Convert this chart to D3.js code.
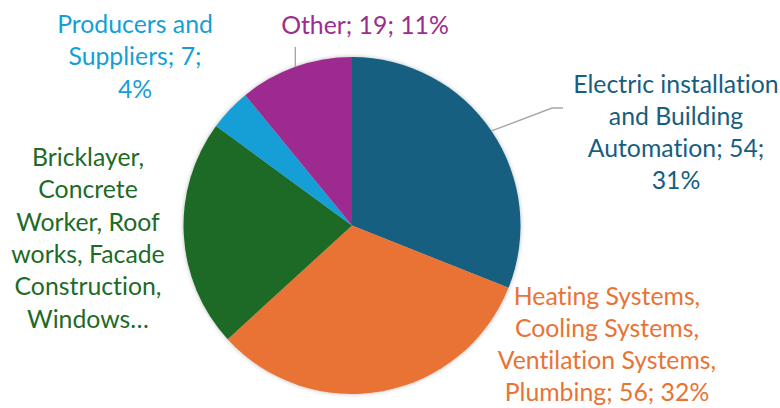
<!DOCTYPE html>
<html>
<head>
<meta charset="utf-8">
<script src="https://cdn.jsdelivr.net/npm/d3@7"></script>
<style>
  html, body { margin: 0; padding: 0; background: #fff; }
  svg { display: block; }
  text { font-family: Lato, "Open Sans", sans-serif; font-variant-ligatures: none; font-feature-settings: "liga" 0, "clig" 0; }
</style>
</head>
<body>
<svg id="chart" width="780" height="408"></svg>
<script>
// Trade groups and their counts (clockwise from 12 o'clock)
const categories = [
  "Electric installation and Building Automation",
  "Heating Systems, Cooling Systems, Ventilation Systems, Plumbing",
  "Bricklayer, Concrete Worker, Roof works, Facade Construction, Windows…",
  "Producers and Suppliers",
  "Other"
];
const counts = [54, 56, 38, 7, 19];
const colors = ["#175e80", "#e97334", "#1d6b25", "#139fd6", "#9d2c8f"];

// How each data label is broken into lines (the long group label is clipped)
const labelLines = [
  ["Electric installation", "and Building", "Automation; {v};", "{p}"],
  ["Heating Systems,", "Cooling Systems,", "Ventilation Systems,", "Plumbing; {v}; {p}"],
  ["Bricklayer,", "Concrete", "Worker, Roof", "works, Facade", "Construction,", "Windows…"],
  ["Producers and", "Suppliers; {v};", "{p}"],
  ["Other; {v}; {p}"]
];

const W = 780, H = 408;
const cx = 352, cy = 225.5, R = 168.5;
const fontSize = 24.8, lineGap = 32.3;

// Label anchor (centre x, first baseline y) relative to the pie centre
const labelPos = [
  { dx: 324, dy: -133 },
  { dx: 255, dy: 79 },
  { dx: -264, dy: -59.5 },
  { dx: -217, dy: -192.5 },
  { dx: 13, dy: -192 }
];

const svg = d3.select("#chart");
const defs = svg.append("defs");
const shadow = defs.append("filter").attr("id", "pieShadow")
  .attr("x", "-20%").attr("y", "-20%").attr("width", "140%").attr("height", "140%");
shadow.append("feDropShadow")
  .attr("dx", 0).attr("dy", 0).attr("stdDeviation", 2.2)
  .attr("flood-color", "#000").attr("flood-opacity", 0.28);

const total = d3.sum(counts);
const pie = d3.pie().sort(null).value(d => d)(counts);
const arc = d3.arc().innerRadius(0).outerRadius(R);

const g = svg.append("g").attr("transform", `translate(${cx},${cy})`);

g.append("g").attr("filter", "url(#pieShadow)")
  .selectAll("path").data(pie).join("path")
  .attr("d", arc)
  .attr("fill", (d, i) => colors[i]);

// Point on the rim at a slice's mid-angle
function rimPoint(d) {
  const a = (d.startAngle + d.endAngle) / 2;
  return [Math.sin(a) * R, -Math.cos(a) * R];
}

// Leader lines for the two labels that sit away from their slices
const leader = d3.line();
const p0 = rimPoint(pie[0]);
g.append("path")
  .attr("d", leader([p0, [200, -117.5], [211, -117.5]]))
  .attr("fill", "none").attr("stroke", "#a6a6a6").attr("stroke-width", 1.4);
const p4 = rimPoint(pie[4]);
g.append("path")
  .attr("d", leader([p4, [p4[0], -178.5]]))
  .attr("fill", "none").attr("stroke", "#a6a6a6").attr("stroke-width", 1.4);

// Data labels: "name; value; percent"
pie.forEach((d, i) => {
  const pct = Math.round(counts[i] / total * 100) + "%";
  const lines = labelLines[i].map(s => s.replace("{v}", counts[i]).replace("{p}", pct));
  const t = g.append("text")
    .attr("x", labelPos[i].dx)
    .attr("y", labelPos[i].dy)
    .attr("text-anchor", "middle")
    .attr("font-size", fontSize)
    .attr("fill", colors[i]);
  lines.forEach((s, k) => {
    t.append("tspan")
      .attr("x", labelPos[i].dx)
      .attr("y", labelPos[i].dy + k * lineGap)
      .text(s);
  });
});
</script>
</body>
</html>
